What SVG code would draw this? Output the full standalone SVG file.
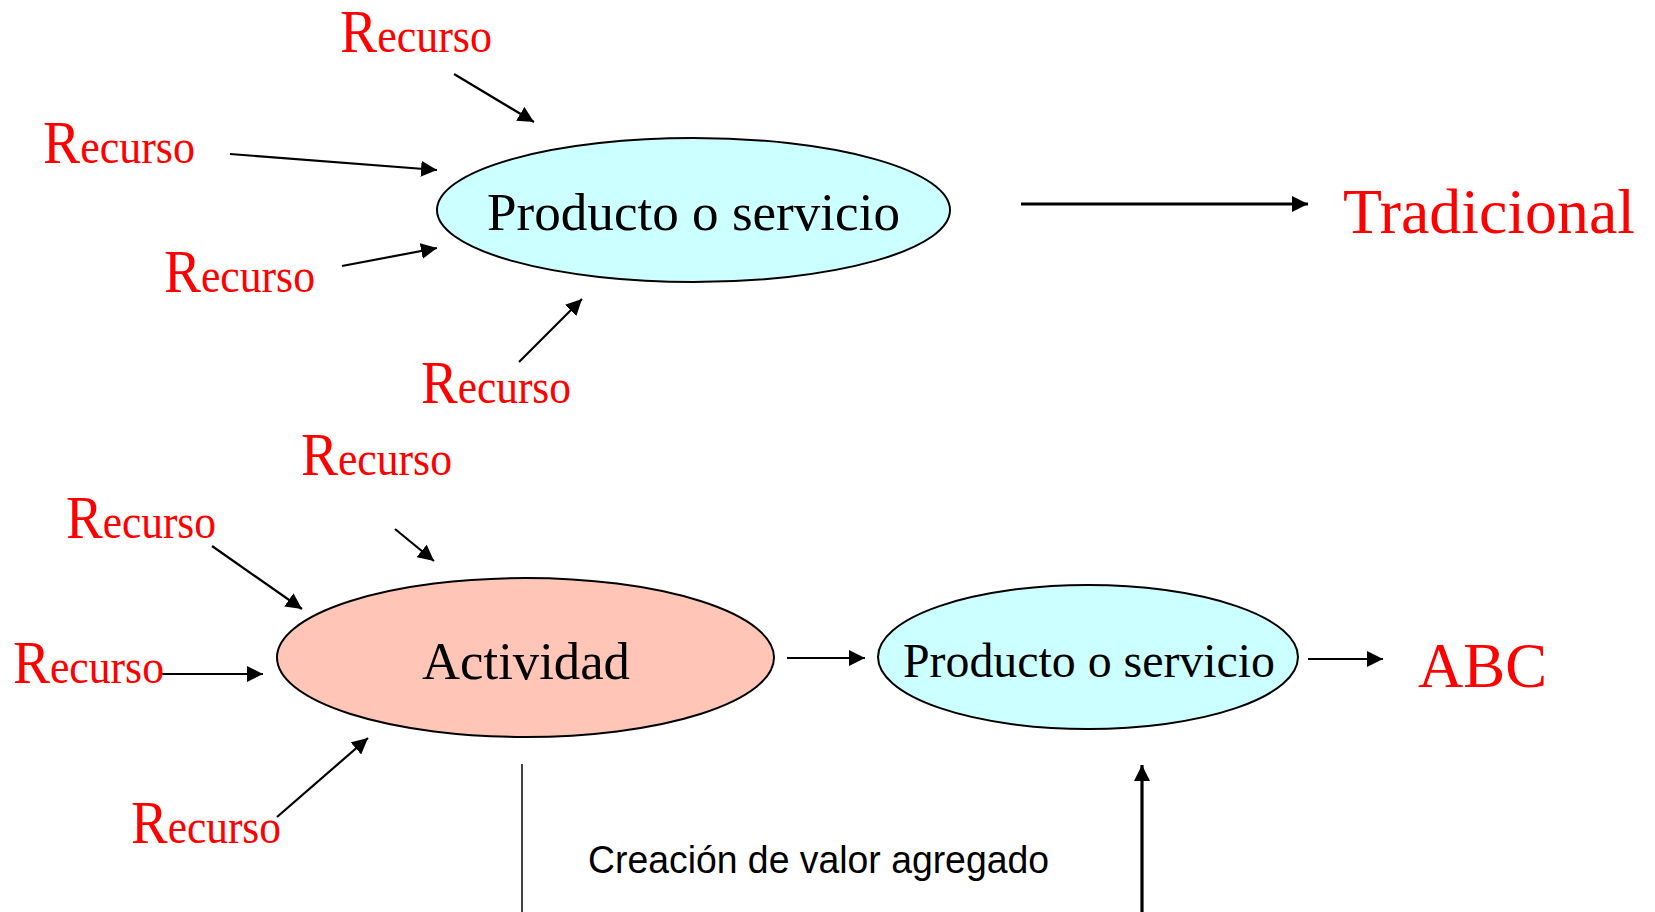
<svg xmlns="http://www.w3.org/2000/svg" width="1655" height="912" viewBox="0 0 1655 912">
<style>
.bg{fill:#ffffff}
.rec{font-family:"Liberation Serif","Times New Roman",serif;fill:#ff0000;font-size:49px}
.rec .cap{font-size:62px}
.red{font-family:"Liberation Serif","Times New Roman",serif;fill:#ff0000}
.lbl{font-family:"Liberation Serif","Times New Roman",serif;fill:#000000}
.note{font-family:"Liberation Sans",Arial,sans-serif;fill:#000000;font-size:38px}
.prod{fill:#ccffff;stroke:#000000;stroke-width:2}
.act{fill:#ffc6b8;stroke:#000000;stroke-width:2}
.arr{stroke:#000000;stroke-width:2.2;fill:none;marker-end:url(#ah)}
.arrT{stroke:#000000;stroke-width:3.2;fill:none;marker-end:url(#ah)}
.plain{stroke:#222222;stroke-width:1.7;fill:none}
</style>
<defs>
<marker id="ah" markerUnits="userSpaceOnUse" markerWidth="17" markerHeight="16" refX="16" refY="8" orient="auto">
<path d="M0,0 L16,8 L0,16 z" fill="#000000"/>
</marker>
</defs>
<rect class="bg" x="0" y="0" width="1655" height="912"/>

<g id="connectors">
<line class="arr" x1="454" y1="74" x2="534" y2="122"/>
<line class="arr" x1="230" y1="154" x2="437" y2="170"/>
<line class="arr" x1="342" y1="266" x2="437" y2="248"/>
<line class="arr" x1="519" y1="362" x2="582" y2="299"/>
<line class="arrT" x1="1021" y1="204" x2="1308" y2="204"/>
<line class="arr" x1="395" y1="529" x2="434" y2="561"/>
<line class="arr" x1="212" y1="546" x2="302" y2="609"/>
<line class="arr" x1="160" y1="674" x2="263" y2="674"/>
<line class="arr" x1="277" y1="817" x2="368" y2="738"/>
<line class="arr" x1="787" y1="658" x2="865" y2="658"/>
<line class="arr" x1="1308" y1="659" x2="1383" y2="659"/>
<line class="arrT" x1="1142" y1="912" x2="1142" y2="765"/>
<line class="plain" x1="522" y1="764" x2="522" y2="912"/>
</g>

<g id="producto-top">
<ellipse class="prod" cx="693.5" cy="210" rx="256.5" ry="72"/>
<text class="lbl" x="487" y="230" font-size="52" textLength="413" lengthAdjust="spacingAndGlyphs">Producto o servicio</text>
</g>

<g id="tradicional">
<text class="red" x="1343" y="233" font-size="64" textLength="292" lengthAdjust="spacingAndGlyphs">Tradicional</text>
</g>

<g id="actividad">
<ellipse class="act" cx="525.5" cy="657.5" rx="248.5" ry="79.5"/>
<text class="lbl" x="422" y="679" font-size="53" textLength="208" lengthAdjust="spacingAndGlyphs">Actividad</text>
</g>

<g id="producto-bottom">
<ellipse class="prod" cx="1088" cy="657" rx="210" ry="72"/>
<text class="lbl" x="903" y="677" font-size="48" textLength="372" lengthAdjust="spacingAndGlyphs">Producto o servicio</text>
</g>

<g id="abc">
<text class="red" x="1418" y="687" font-size="63" textLength="129" lengthAdjust="spacingAndGlyphs">ABC</text>
</g>

<g id="creacion">
<text class="note" x="588" y="873" textLength="461" lengthAdjust="spacingAndGlyphs">Creación de valor agregado</text>
</g>

<g id="recurso-1"><text class="rec" x="340" y="52" textLength="152" lengthAdjust="spacingAndGlyphs"><tspan class="cap">R</tspan>ecurso</text></g>
<g id="recurso-2"><text class="rec" x="43" y="163" textLength="152" lengthAdjust="spacingAndGlyphs"><tspan class="cap">R</tspan>ecurso</text></g>
<g id="recurso-3"><text class="rec" x="164" y="292" textLength="151" lengthAdjust="spacingAndGlyphs"><tspan class="cap">R</tspan>ecurso</text></g>
<g id="recurso-4"><text class="rec" x="421" y="403" textLength="150" lengthAdjust="spacingAndGlyphs"><tspan class="cap">R</tspan>ecurso</text></g>
<g id="recurso-5"><text class="rec" x="301" y="475" textLength="151" lengthAdjust="spacingAndGlyphs"><tspan class="cap">R</tspan>ecurso</text></g>
<g id="recurso-6"><text class="rec" x="66" y="538" textLength="150" lengthAdjust="spacingAndGlyphs"><tspan class="cap">R</tspan>ecurso</text></g>
<g id="recurso-7"><text class="rec" x="13" y="683" textLength="151" lengthAdjust="spacingAndGlyphs"><tspan class="cap">R</tspan>ecurso</text></g>
<g id="recurso-8"><text class="rec" x="131" y="843" textLength="150" lengthAdjust="spacingAndGlyphs"><tspan class="cap">R</tspan>ecurso</text></g>
</svg>
